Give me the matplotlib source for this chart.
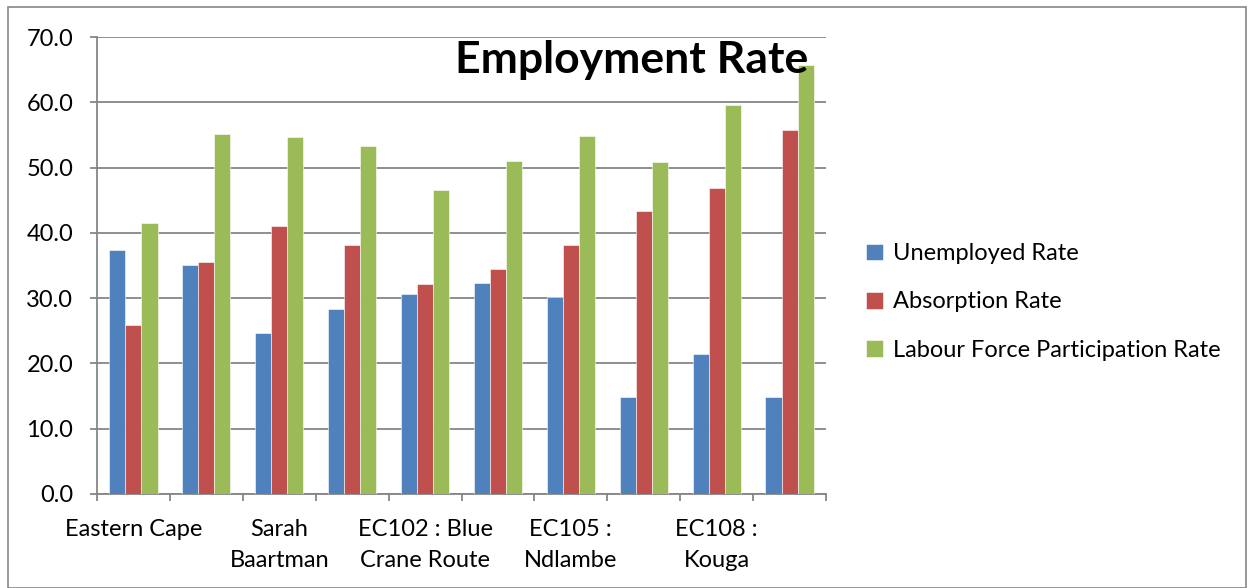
import matplotlib
import matplotlib.pyplot as plt
import numpy as np
from matplotlib.patches import Rectangle

matplotlib.use("Agg")

# Municipalities (Excel only shows every second label)
categories = [
    "Eastern Cape",
    "Nelson Mandela Bay",
    "Sarah Baartman",
    "EC101 : Camdeboo",
    "EC102 : Blue Crane Route",
    "EC104 : Makana",
    "EC105 : Ndlambe",
    "EC106 : Sundays River Valley",
    "EC108 : Kouga",
    "EC109 : Kou-Kamma",
]
tick_labels = [
    "Eastern Cape",
    "",
    "Sarah\nBaartman",
    "",
    "EC102 : Blue\nCrane Route",
    "",
    "EC105 :\nNdlambe",
    "",
    "EC108 :\nKouga",
    "",
]

unemployed = [37.3, 35.1, 24.7, 28.4, 30.6, 32.3, 30.2, 14.9, 21.4, 14.9]
absorption = [25.9, 35.6, 41.1, 38.1, 32.2, 34.4, 38.2, 43.3, 46.8, 55.8]
participation = [41.5, 55.1, 54.7, 53.3, 46.6, 51.0, 54.8, 50.9, 59.6, 65.7]

series_names = ["Unemployed Rate", "Absorption Rate", "Labour Force Participation Rate"]
colors = ["#4F81BD", "#C0504D", "#9BBB59"]

plt.rcParams["font.family"] = ["Lato", "DejaVu Sans"]

W, H = 1252, 588
fig = plt.figure(figsize=(W / 100, H / 100), dpi=100)
ax = fig.add_axes([97 / W, 1 - 494 / H, (826 - 97) / W, (494 - 37) / H])

x = np.arange(len(categories))
width = 0.22
for i, (vals, name, col) in enumerate(zip([unemployed, absorption, participation], series_names, colors)):
    ax.bar(x + (i - 1) * width, vals, width, color=col, label=name,
           edgecolor="white", linewidth=0.4, zorder=3)

ax.set_xlim(-0.5, len(categories) - 0.5)
ax.set_ylim(0, 70)
ax.set_yticks(np.arange(0, 71, 10))
ax.set_yticklabels([f"{v:.1f}" for v in np.arange(0, 71, 10)], fontsize=17)
ax.yaxis.grid(True, color="#868686", linewidth=1.3, zorder=0)
ax.set_axisbelow(True)

# category boundary ticks, labels centred on every second category
ax.set_xticks(np.arange(-0.5, len(categories) + 0.5, 1))
ax.set_xticklabels([])
ax.set_xticks(x, minor=True)
ax.set_xticklabels(tick_labels, minor=True, fontsize=17, linespacing=1.6, va="top")
ax.tick_params(axis="x", which="minor", length=0, pad=18)
ax.tick_params(axis="x", which="major", length=5, width=1.3, color="#868686")
ax.tick_params(axis="y", length=5, width=1.3, color="#868686", pad=12)

for side in ("top", "right"):
    ax.spines[side].set_visible(False)
for side in ("left", "bottom"):
    ax.spines[side].set_color("#868686")
    ax.spines[side].set_linewidth(1.3)

fig.text(632 / W, 1 - 60 / H, "Employment Rate", fontsize=32, fontweight="bold",
         ha="center", va="center")

fig.legend(loc="upper left", bbox_to_anchor=(845 / W, 1 - 222 / H), frameon=False,
           fontsize=17, handlelength=0.72, handleheight=0.72, handletextpad=0.4,
           labelspacing=1.15)

fig.patches.append(Rectangle((8 / W, 0), (1246 - 8) / W, 1 - 7 / H, transform=fig.transFigure,
                             fill=False, edgecolor="#868686", linewidth=1.2))

fig.savefig("out.png", dpi=100)
